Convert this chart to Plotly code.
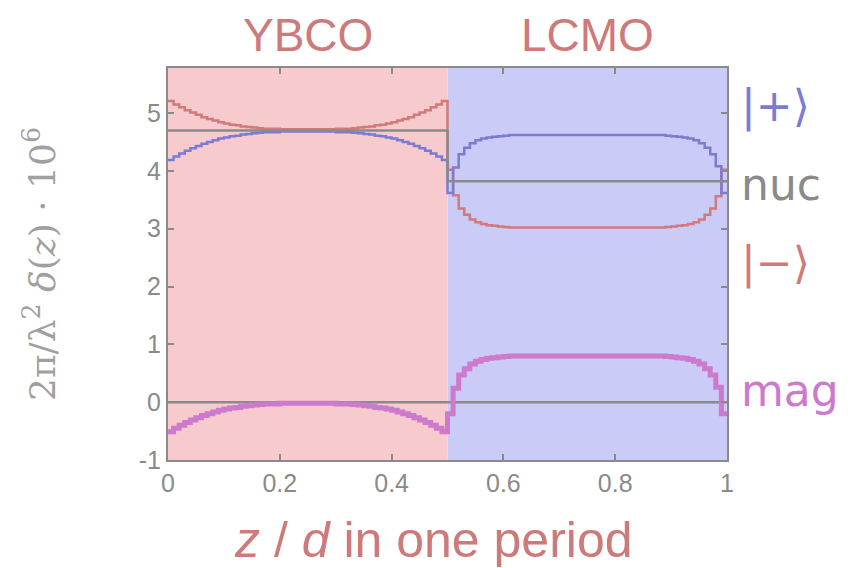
import plotly.graph_objects as go

# step boundaries (z/d), one step every 0.01
z_steps = [round(i * 0.01, 2) for i in range(101)]

# nuclear SLD per layer
nuc_ybco = 4.70
nuc_lcmo = 3.82

# magnetic SLD, one value per step (YBCO: z=0.00..0.49, LCMO: z=0.50..0.99)
mag_ybco = [-0.51, -0.45, -0.40, -0.35, -0.31, -0.27, -0.23, -0.20, -0.17, -0.14,
            -0.12, -0.10, -0.09, -0.07, -0.06, -0.05, -0.04, -0.03, -0.03, -0.03,
            -0.02, -0.02, -0.02, -0.02, -0.02, -0.02, -0.02, -0.02, -0.02, -0.02,
            -0.03, -0.03, -0.03, -0.04, -0.05, -0.06, -0.07, -0.09, -0.10, -0.12,
            -0.14, -0.17, -0.20, -0.23, -0.27, -0.31, -0.35, -0.40, -0.45, -0.51]
mag_lcmo = [-0.20, 0.24, 0.47, 0.58, 0.66, 0.71, 0.74, 0.76, 0.77, 0.78,
            0.79, 0.80, 0.80, 0.80, 0.80, 0.80, 0.80, 0.80, 0.80, 0.80,
            0.80, 0.80, 0.80, 0.80, 0.80, 0.80, 0.80, 0.80, 0.80, 0.80,
            0.80, 0.80, 0.80, 0.80, 0.80, 0.80, 0.80, 0.80, 0.80, 0.79,
            0.78, 0.77, 0.76, 0.74, 0.71, 0.66, 0.58, 0.47, 0.26, -0.20]

x_ticks = [0, 0.2, 0.4, 0.6, 0.8, 1]
x_tick_text = ["0", "0.2", "0.4", "0.6", "0.8", "1"]
y_ticks = [-1, 0, 1, 2, 3, 4, 5]
y_tick_text = ["-1", "0", "1", "2", "3", "4", "5"]

layer_names = ["YBCO", "LCMO"]
layer_bounds = [(0, 0.5), (0.5, 1.0)]
layer_colors = ["#f7cace", "#cbcbf7"]

nuc = [nuc_ybco] * 50 + [nuc_lcmo] * 50
mag = mag_ybco + mag_lcmo
plus = [n + m for n, m in zip(nuc, mag)]
minus = [n - m for n, m in zip(nuc, mag)]

def closed(v):
    return v + [v[-1]]

GRAY = "#8a8a8a"
BLUE = "#7b7bd2"
RED = "#d07a7a"
PURPLE = "#cc7acc"
TITLE_RED = "#cc7a7a"

fig = go.Figure()
for (x0, x1), c in zip(layer_bounds, layer_colors):
    fig.add_shape(type="rect", xref="x", yref="paper", x0=x0, x1=x1, y0=0, y1=1,
                  fillcolor=c, line_width=0, layer="below")

fig.add_trace(go.Scatter(x=z_steps, y=closed(minus), mode="lines", line_shape="hv",
                         line=dict(color=RED, width=2.5), showlegend=False))
fig.add_trace(go.Scatter(x=z_steps, y=closed(plus), mode="lines", line_shape="hv",
                         line=dict(color=BLUE, width=2.5), showlegend=False))
fig.add_trace(go.Scatter(x=z_steps, y=closed(nuc), mode="lines", line_shape="hv",
                         line=dict(color=GRAY, width=2.5), showlegend=False))
fig.add_trace(go.Scatter(x=z_steps, y=[0] * 101, mode="lines",
                         line=dict(color=GRAY, width=2.5), showlegend=False))
fig.add_trace(go.Scatter(x=z_steps, y=closed(mag), mode="lines", line_shape="hv",
                         line=dict(color=PURPLE, width=5), showlegend=False))

# layer titles
for name, (x0, x1) in zip(layer_names, layer_bounds):
    fig.add_annotation(x=(x0 + x1) / 2, xref="x", y=1.0, yref="paper", yshift=5,
                       text=name, showarrow=False, yanchor="bottom",
                       font=dict(family="Liberation Sans", size=46, color=TITLE_RED))

# right-hand labels
right_labels = [("|+⟩", 5.12, BLUE), ("nuc", 3.76, GRAY), ("|−⟩", 2.4, RED), ("mag", 0.2, PURPLE)]
for txt, yv, col in right_labels:
    fig.add_annotation(x=1.0, xref="paper", y=yv, yref="y", xshift=12, text=txt,
                       showarrow=False, xanchor="left", yanchor="middle",
                       font=dict(family="DejaVu Sans", size=44, color=col))

# x-axis title
fig.add_annotation(x=0.5, xref="paper", y=0, yref="paper", yshift=-50, xshift=-14,
                   text="<i>z</i> / <i>d</i> in one period", showarrow=False,
                   xanchor="center", yanchor="top",
                   font=dict(family="Liberation Sans", size=50, color=TITLE_RED))

fig.update_layout(
    width=851, height=560,
    margin=dict(l=160, r=132, t=60, b=108),
    paper_bgcolor="white", plot_bgcolor="white",
    font=dict(family="Liberation Sans", color=GRAY),
    xaxis=dict(range=[0, 1], tickvals=x_ticks, ticktext=x_tick_text,
               ticks="inside", ticklen=6, tickwidth=2, tickcolor=GRAY,
               showline=True, linecolor=GRAY, linewidth=2, mirror="ticks",
               showgrid=False, zeroline=False, automargin=False,
               tickfont=dict(family="Liberation Sans", size=25, color=GRAY)),
    yaxis=dict(range=[-1, 5.78], tickvals=y_ticks, ticktext=y_tick_text,
               ticks="inside", ticklen=6, tickwidth=2, tickcolor=GRAY,
               showline=True, linecolor=GRAY, linewidth=2, mirror="ticks",
               showgrid=False, zeroline=False, automargin=False,
               tickfont=dict(family="Liberation Sans", size=25, color=GRAY),
               title=dict(text="2π/λ<sup>2</sup> <i>δ</i>(<i>z</i>) · 10<sup>6</sup>", standoff=72,
                          font=dict(family="DejaVu Serif", size=36, color="#a0a0a0"))),
)

fig.write_html("out.html")
